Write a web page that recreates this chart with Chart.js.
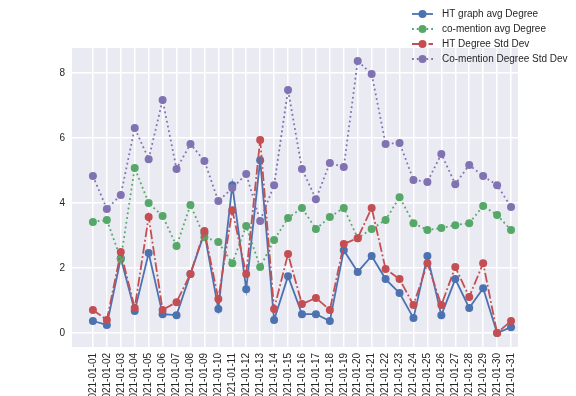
<!DOCTYPE html>
<html>
<head>
<meta charset="utf-8">
<script src="https://cdn.jsdelivr.net/npm/chart.js@4"></script>
<style>
  html, body { margin: 0; padding: 0; background: #fff; overflow: hidden; }
  #wrap { width: 576px; height: 396px; position: relative; }
</style>
</head>
<body>
<div id="wrap"><canvas id="chart" width="576" height="396"></canvas></div>
<script>
// dates along the x axis
const dates = [
  '2021-01-01', '2021-01-02', '2021-01-03', '2021-01-04', '2021-01-05', '2021-01-06', '2021-01-07',
  '2021-01-08', '2021-01-09', '2021-01-10', '2021-01-11', '2021-01-12', '2021-01-13', '2021-01-14',
  '2021-01-15', '2021-01-16', '2021-01-17', '2021-01-18', '2021-01-19', '2021-01-20', '2021-01-21',
  '2021-01-22', '2021-01-23', '2021-01-24', '2021-01-25', '2021-01-26', '2021-01-27', '2021-01-28',
  '2021-01-29', '2021-01-30', '2021-01-31',
];

const htAvgDegree = [
  0.37, 0.25, 2.30, 0.68, 2.46, 0.58, 0.55, 1.82, 3.08, 0.74, 4.55, 1.35, 5.32, 0.40, 1.75, 0.58,
  0.58, 0.37, 2.55, 1.88, 2.37, 1.66, 1.23, 0.46, 2.37, 0.55, 1.66, 0.77, 1.38, 0.00, 0.18,
];
const coAvgDegree = [
  3.42, 3.48, 2.28, 5.08, 4.00, 3.60, 2.68, 3.94, 2.95, 2.80, 2.15, 3.29, 2.03, 2.86, 3.54, 3.85,
  3.20, 3.57, 3.85, 2.92, 3.20, 3.48, 4.18, 3.38, 3.17, 3.23, 3.32, 3.38, 3.91, 3.63, 3.17,
];
const htStdDev = [
  0.71, 0.40, 2.49, 0.77, 3.57, 0.71, 0.95, 1.82, 3.14, 1.05, 3.78, 1.82, 5.94, 0.74, 2.43, 0.89,
  1.08, 0.71, 2.74, 2.92, 3.85, 1.97, 1.66, 0.86, 2.15, 0.86, 2.03, 1.11, 2.15, 0.00, 0.37,
];
const coStdDev = [
  4.83, 3.82, 4.25, 6.31, 5.35, 7.17, 5.05, 5.82, 5.29, 4.06, 4.46, 4.89, 3.45, 4.55, 7.48, 5.05,
  4.12, 5.23, 5.11, 8.37, 7.97, 5.82, 5.85, 4.71, 4.65, 5.51, 4.58, 5.17, 4.83, 4.55, 3.88,
];
const yTicks = [0, 2, 4, 6, 8];

const FONT = '"Liberation Sans", Arial, sans-serif';
const TEXT_COLOR = '#262626';

function series(label, values, color, dash, order) {
  return {
    label,
    data: values.map((v, i) => ({ x: i, y: v })),
    borderColor: color,
    backgroundColor: color,
    borderWidth: 1.8,
    borderDash: dash,
    pointRadius: 4,
    pointHoverRadius: 4,
    pointBorderWidth: 0,
    pointBackgroundColor: color,
    tension: 0,
    fill: false,
    order,
  };
}

// seaborn-style grey plot area
const plotBackground = {
  id: 'plotBackground',
  beforeDraw(chart) {
    const { ctx, chartArea: a } = chart;
    ctx.save();
    ctx.fillStyle = '#EAEAF2';
    ctx.fillRect(a.left, a.top, a.right - a.left, a.bottom - a.top);
    ctx.restore();
  },
};

// legend floats top-right, over the plot, no frame
const floatLegend = {
  id: 'floatLegend',
  afterDraw(chart) {
    const { ctx } = chart;
    const x0 = 412, x1 = 433, tx = 442;
    chart.data.datasets.forEach((ds, i) => {
      const y = 14 + i * 15;
      ctx.save();
      ctx.strokeStyle = ds.borderColor;
      ctx.lineWidth = ds.borderWidth;
      ctx.setLineDash(ds.borderDash || []);
      ctx.beginPath();
      ctx.moveTo(x0, y);
      ctx.lineTo(x1, y);
      ctx.stroke();
      ctx.setLineDash([]);
      ctx.fillStyle = ds.borderColor;
      ctx.beginPath();
      ctx.arc((x0 + x1) / 2, y, 4, 0, Math.PI * 2);
      ctx.fill();
      ctx.fillStyle = TEXT_COLOR;
      ctx.font = '10px ' + FONT;
      ctx.textBaseline = 'middle';
      ctx.fillText(ds.label, tx, y);
      ctx.restore();
    });
  },
};

new Chart(document.getElementById('chart').getContext('2d'), {
  type: 'line',
  data: {
    datasets: [
      series('HT graph avg Degree', htAvgDegree, '#4C72B0', [], 4),
      series('co-mention avg Degree', coAvgDegree, '#55A868', [1.8, 3], 3),
      series('HT Degree Std Dev', htStdDev, '#C44E52', [9.6, 2.6, 1.8, 2.6], 2),
      series('Co-mention Degree Std Dev', coStdDev, '#8172B2', [1.8, 3], 1),
    ],
  },
  options: {
    responsive: false,
    animation: false,
    layout: { padding: { top: 48, right: 58, left: 0, bottom: 0 } },
    plugins: { legend: { display: false }, tooltip: { enabled: false } },
    scales: {
      x: {
        type: 'linear',
        min: -1.5,
        max: dates.length - 0.5,
        afterBuildTicks: s => { s.ticks = dates.map((_, i) => ({ value: i })); },
        afterFit: s => { s.height = 49; },
        border: { display: false },
        grid: { color: '#ffffff', lineWidth: 1.5, drawTicks: false },
        ticks: {
          autoSkip: false,
          minRotation: 90,
          maxRotation: 90,
          padding: 6,
          color: TEXT_COLOR,
          font: { family: FONT, size: 10 },
          callback: v => dates[v] ?? '',
        },
      },
      y: {
        min: -0.43,
        max: 8.77,
        afterBuildTicks: s => { s.ticks = yTicks.map(v => ({ value: v })); },
        afterFit: s => { s.width = 72; },
        border: { display: false },
        grid: { color: '#ffffff', lineWidth: 1.5, drawTicks: false },
        ticks: {
          padding: 7,
          color: TEXT_COLOR,
          font: { family: FONT, size: 10 },
        },
      },
    },
  },
  plugins: [plotBackground, floatLegend],
});
</script>
</body>
</html>
